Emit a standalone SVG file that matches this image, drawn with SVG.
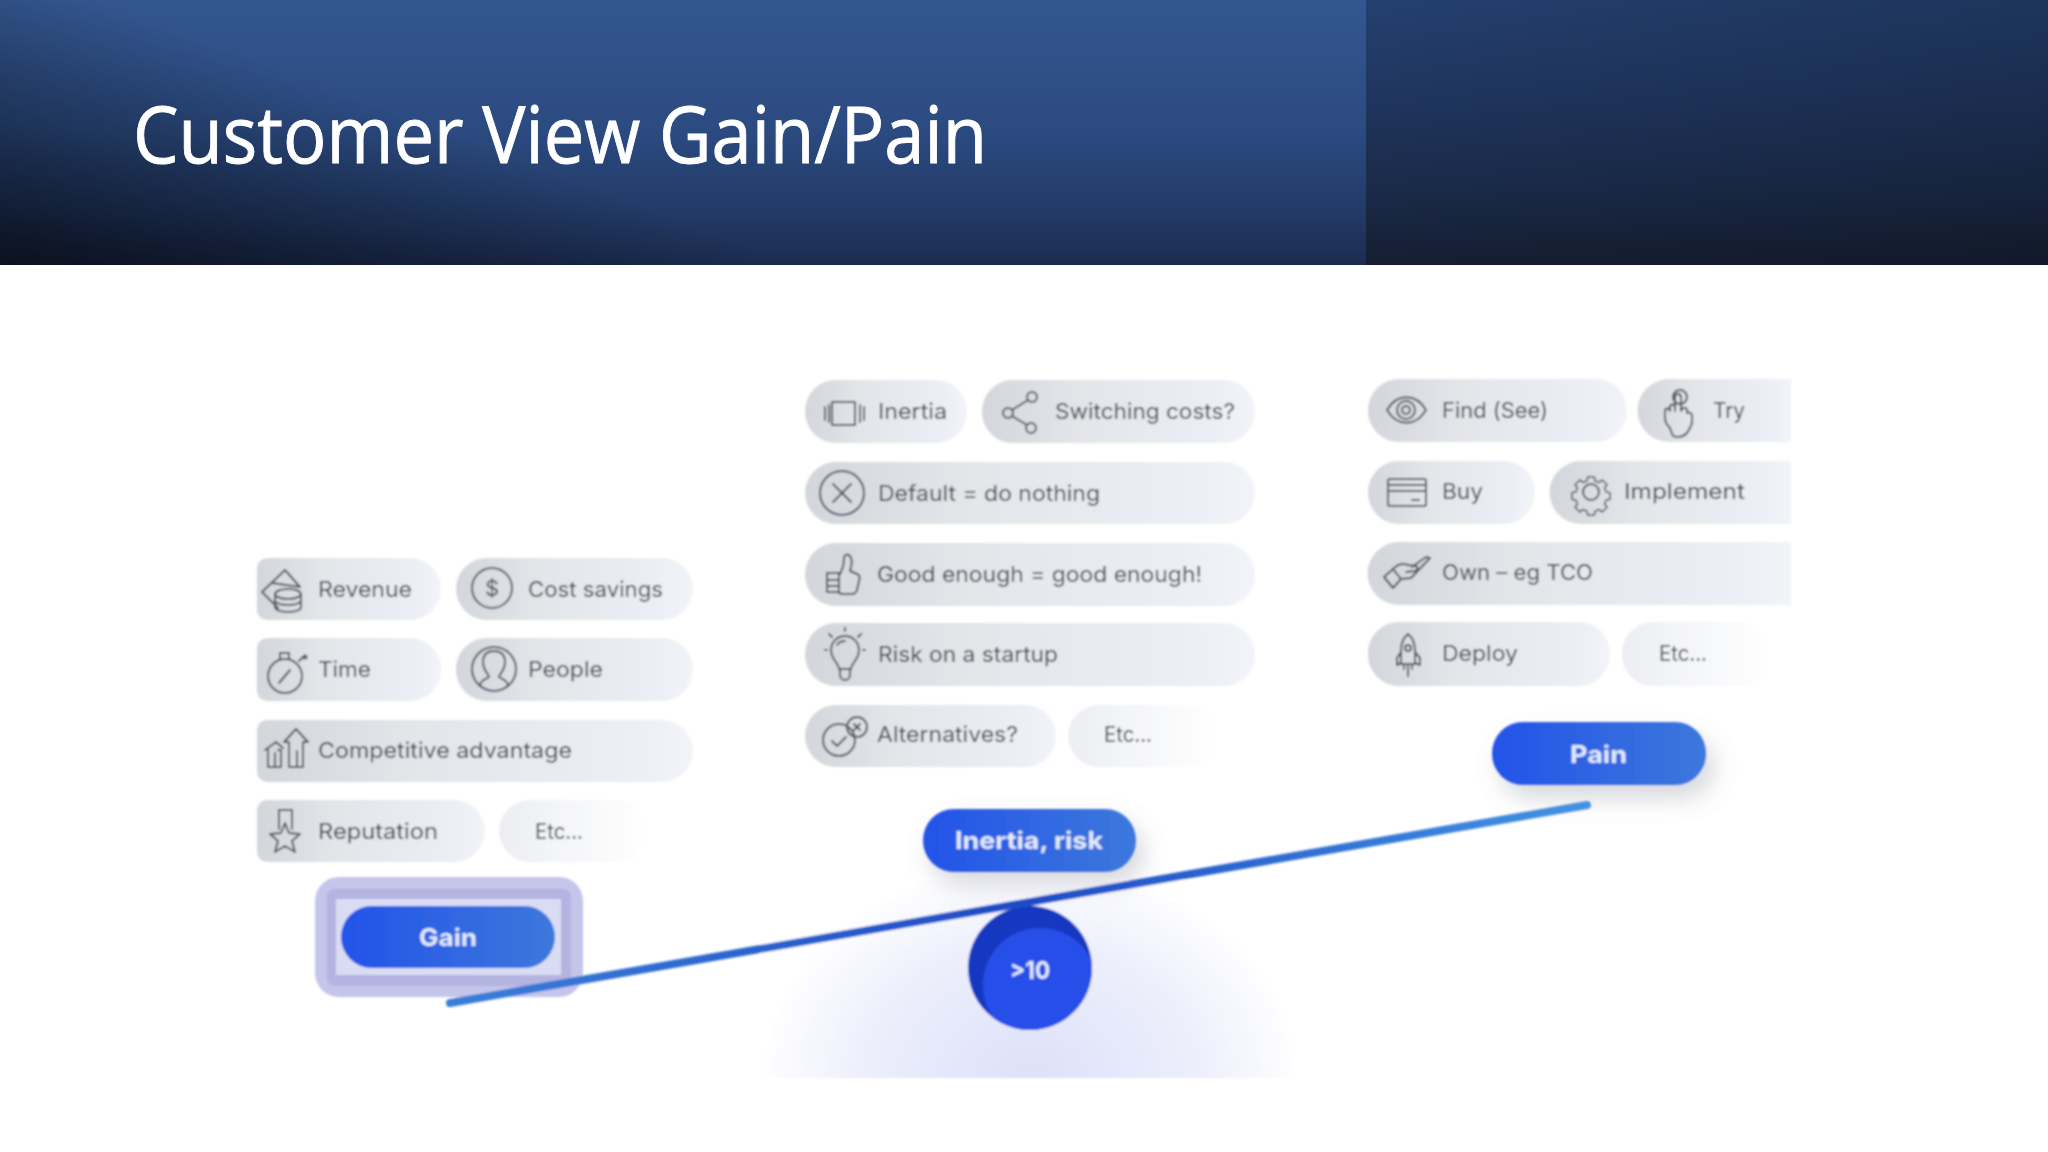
<svg xmlns="http://www.w3.org/2000/svg" width="2048" height="1152" viewBox="0 0 2048 1152">
<style>
.t{font-family:Inter,"Liberation Sans",sans-serif;font-size:22px;fill:#42464f}
.b{font-family:Inter,"Liberation Sans",sans-serif;font-weight:700;font-size:24px;fill:#e3ebfc}
.title{font-family:"Open Sans","Liberation Sans",sans-serif;font-size:79px;fill:#fff;stroke:#fff;stroke-width:.9}
.pill{fill:url(#pg)}
.etc{fill:url(#eg)}
.btn{fill:url(#bg)}
.i{fill:none;stroke:#50545d;stroke-width:2;stroke-linecap:round;stroke-linejoin:round}
</style>
<defs>
<linearGradient id="pg"><stop offset="0" stop-color="#d3d6db"/><stop offset=".35" stop-color="#e3e5e9"/><stop offset=".8" stop-color="#eaedf4"/><stop offset="1" stop-color="#f2f4f8"/></linearGradient>
<linearGradient id="eg"><stop offset="0" stop-color="#eceef2"/><stop offset=".45" stop-color="#f5f6f9"/><stop offset="1" stop-color="#fff"/></linearGradient>
<linearGradient id="bg"><stop offset="0" stop-color="#2353e8"/><stop offset="1" stop-color="#3c78dc"/></linearGradient>
<linearGradient id="hl" x1="0" y1="0" x2="0" y2="1"><stop offset="0" stop-color="#33568f"/><stop offset=".5" stop-color="#2b4a80"/><stop offset=".8" stop-color="#223a66"/><stop offset="1" stop-color="#1c2c50"/></linearGradient>
<linearGradient id="hd" gradientUnits="userSpaceOnUse" x1="0" y1="265" x2="100" y2="0"><stop offset="0" stop-color="#000" stop-opacity=".62"/><stop offset="1" stop-color="#000" stop-opacity="0"/></linearGradient>
<linearGradient id="hr" x1="0" y1="0" x2="0" y2="1"><stop offset="0" stop-color="#24406f"/><stop offset=".35" stop-color="#203660"/><stop offset=".7" stop-color="#1a2b4a"/><stop offset="1" stop-color="#151e31"/></linearGradient>
<linearGradient id="hx"><stop offset="0" stop-color="#000" stop-opacity="0"/><stop offset="1" stop-color="#000" stop-opacity=".18"/></linearGradient>
<linearGradient id="beam" gradientUnits="userSpaceOnUse" x1="448" y1="1003" x2="1588" y2="805"><stop offset="0" stop-color="#3a7fd8"/><stop offset=".5" stop-color="#1d4cc6"/><stop offset="1" stop-color="#4393e2"/></linearGradient>
<radialGradient id="glow" gradientUnits="userSpaceOnUse" cx="1030" cy="1078" r="270" gradientTransform="translate(0 215) scale(1 .8)"><stop offset="0" stop-color="#dde1f9"/><stop offset=".6" stop-color="#eceefc"/><stop offset="1" stop-color="#fff"/></radialGradient>
<filter id="soft" filterUnits="userSpaceOnUse" x="0" y="266" width="2048" height="886"><feGaussianBlur stdDeviation=".8"/></filter>
<filter id="sh" x="-30%" y="-60%" width="160%" height="240%"><feGaussianBlur stdDeviation="12"/></filter>
<clipPath id="cc"><circle cx="1030" cy="968" r="62"/></clipPath>
</defs>
<rect width="2048" height="1152" fill="#fff"/>
<g id="header">
<rect width="1366" height="265" fill="url(#hl)"/>
<rect width="1366" height="265" fill="url(#hd)"/>
<rect x="1366" width="682" height="265" fill="url(#hr)"/>
<rect x="1366" width="682" height="265" fill="url(#hx)"/>
<text class="title" x="133" y="163" textLength="854" lengthAdjust="spacingAndGlyphs">Customer View Gain/Pain</text>
</g>
<g id="infographic" filter="url(#soft)">
<g id="fulcrum-glow"><rect x="760" y="880" width="540" height="198" fill="url(#glow)"/></g>

<g id="node-revenue"><path class="pill" d="M267 558H410a31 31 0 0 1 0 62H267a10 10 0 0 1-10-10V568a10 10 0 0 1 10-10z"/>
<path class="i" d="M278 608l-16-16 23-22 15 17M272 583l28 4"/><ellipse class="i" cx="288" cy="594" rx="13" ry="5"/><path class="i" d="M275 594v13c0 3 6 5 13 5s13-2 13-5v-13M275 601c2 3 7 4 13 4s11-1 13-4"/>
<text class="t" x="318" y="597" textLength="94" lengthAdjust="spacingAndGlyphs">Revenue</text></g>
<g id="node-cost-savings"><rect class="pill" x="456" y="558" width="237" height="62" rx="31"/><circle class="i" cx="492" cy="588" r="20"/>
<text class="t" x="492" y="596" text-anchor="middle" font-size="22">$</text>
<text class="t" x="528" y="597" textLength="135" lengthAdjust="spacingAndGlyphs">Cost savings</text></g>
<g id="node-time"><path class="pill" d="M267 638H410a31 31 0 0 1 0 63H267a10 10 0 0 1-10-10V648a10 10 0 0 1 10-10z"/>
<circle class="i" cx="285" cy="676" r="17"/><path class="i" d="M280 659v-6h9v6M279 683l11-13M299 661l4-4"/><circle class="i" cx="305" cy="657" r="1.5"/>
<text class="t" x="318" y="677" textLength="53" lengthAdjust="spacingAndGlyphs">Time</text></g>
<g id="node-people"><rect class="pill" x="456" y="638" width="237" height="63" rx="31"/><circle class="i" cx="494" cy="669" r="22"/>
<path class="i" d="M480 686c0-6 6-7 9-9 0-3-6-6-6-15 0-8 5-11 11-11s11 3 11 11c0 9-6 12-6 15 3 2 9 3 9 9"/>
<text class="t" x="528" y="677" textLength="75" lengthAdjust="spacingAndGlyphs">People</text></g>
<g id="node-competitive-advantage"><path class="pill" d="M267 720H662a31 31 0 0 1 0 62H267a10 10 0 0 1-10-10V730a10 10 0 0 1 10-10z"/>
<path class="i" d="M265 750l11-8 7 6M268 750v17h13v-17h-3M275 767v-14M289 767v-25h-5l12-13 12 13h-5v25zM297 767v-16"/>
<text class="t" x="318" y="758" textLength="254" lengthAdjust="spacingAndGlyphs">Competitive advantage</text></g>
<g id="node-reputation"><path class="pill" d="M267 800H454a31 31 0 0 1 0 62H267a10 10 0 0 1-10-10V810a10 10 0 0 1 10-10z"/>
<path class="i" d="M279 829v-19h13v19"/><path class="i" d="M285 823l4 10 11 1-8 7 3 11-10-6-10 6 3-11-8-7 11-1z"/>
<text class="t" x="318" y="839" textLength="120" lengthAdjust="spacingAndGlyphs">Reputation</text></g>
<g id="node-etc-gain"><rect class="etc" x="499" y="800" width="150" height="62" rx="31"/><text class="t" x="535" y="839" textLength="48" lengthAdjust="spacingAndGlyphs">Etc...</text></g>

<g id="node-gain"><rect x="315" y="877" width="268" height="120" rx="24" fill="#c4c5ea"/><rect x="327" y="889" width="244" height="97" rx="8" fill="#b3b4e0"/><rect x="336" y="899" width="225" height="76" fill="#dadcf4"/>
<rect class="btn" x="341" y="906" width="214" height="62" rx="31"/>
<text class="b" x="419" y="946" textLength="58" lengthAdjust="spacingAndGlyphs">Gain</text></g>

<g id="node-inertia"><rect class="pill" x="805" y="380" width="162" height="63" rx="31"/>
<rect class="i" x="832" y="402" width="23" height="23"/><path class="i" d="M829 405v17M825 407v13M860 405v17M864 407v13"/>
<text class="t" x="878" y="419" textLength="69" lengthAdjust="spacingAndGlyphs">Inertia</text></g>
<g id="node-switching"><rect class="pill" x="982" y="380" width="273" height="63" rx="31"/>
<circle class="i" cx="1032" cy="397" r="5"/><circle class="i" cx="1008" cy="413" r="5"/><circle class="i" cx="1031" cy="428" r="5"/><path class="i" d="M1028 400l-16 10M1012 416l15 9"/>
<text class="t" x="1055" y="419" textLength="180" lengthAdjust="spacingAndGlyphs">Switching costs?</text></g>
<g id="node-default"><rect class="pill" x="805" y="462" width="450" height="62" rx="31"/>
<circle class="i" cx="842" cy="493" r="22"/><path class="i" d="M833 484l18 18M851 484l-18 18"/>
<text class="t" x="878" y="501" textLength="222" lengthAdjust="spacingAndGlyphs">Default = do nothing</text></g>
<g id="node-good-enough"><rect class="pill" x="805" y="543" width="450" height="63" rx="31"/>
<path class="i" d="M840 574c3-6 4-10 4-16 0-4 5-5 7 0 2 4 0 9-1 13l7 3c3 1 3 4 2 7l-2 9c-1 3-3 4-5 4h-10c-2 0-3-1-4-2M827 573h12v19h-12zM827 580h12M827 586h12"/>
<text class="t" x="877" y="582" textLength="325" lengthAdjust="spacingAndGlyphs">Good enough = good enough!</text></g>
<g id="node-risk"><rect class="pill" x="805" y="623" width="450" height="63" rx="31"/>
<path class="i" d="M839 669c0-6-8-9-8-19a14 14 0 0 1 28 0c0 10-8 13-8 19zM840 669v6a5 5 0 0 0 10 0v-6M845 628v3M829 634l3 3M861 634l-3 3M825 650h2M863 650h2M837 645c2-3 5-4 8-4"/>
<text class="t" x="878" y="662" textLength="180" lengthAdjust="spacingAndGlyphs">Risk on a startup</text></g>
<g id="node-alternatives"><rect class="pill" x="805" y="705" width="251" height="62" rx="31"/>
<circle class="i" cx="839" cy="740" r="16"/><circle class="i" cx="857" cy="727" r="10"/><path class="i" d="M832 741l5 5 9-9M854 724l6 6M860 724l-6 6"/>
<text class="t" x="877" y="742" textLength="141" lengthAdjust="spacingAndGlyphs">Alternatives?</text></g>
<g id="node-etc-inertia"><rect class="etc" x="1068" y="705" width="150" height="62" rx="31"/><text class="t" x="1104" y="742" textLength="48" lengthAdjust="spacingAndGlyphs">Etc...</text></g>

<g id="node-inertia-risk"><rect x="930" y="822" width="214" height="62" rx="31" fill="#9a9da8" opacity=".4" filter="url(#sh)"/><rect class="btn" x="923" y="809" width="213" height="63" rx="31"/>
<text class="b" x="955" y="849" textLength="148" lengthAdjust="spacingAndGlyphs">Inertia, risk</text></g>

<g id="node-find"><rect class="pill" x="1368" y="379" width="259" height="63" rx="31"/>
<path class="i" d="M1387 410c10-17 29-17 39 0-10 17-29 17-39 0z"/><circle class="i" cx="1406" cy="410" r="9"/><circle class="i" cx="1406" cy="410" r="4"/>
<text class="t" x="1442" y="418" textLength="106" lengthAdjust="spacingAndGlyphs">Find (See)</text></g>
<g id="node-try"><path class="pill" d="M1669 379H1791V442H1669a31 31 0 0 1 0-63z"/>
<circle class="i" cx="1680" cy="397" r="7"/><path class="i" d="M1670 428c-3-3-5-6-5-10v-7a2 2 0 0 1 5 0v-4a2 2 0 0 1 5 0v4-14a3 3 0 0 1 6 0v14l1-2a3 3 0 0 1 5 0v4c2-1 5 0 5 2v7c0 4-3 7-5 11-2 2-4 4-9 4s-5 0-8-9z"/>
<text class="t" x="1713" y="418" textLength="32" lengthAdjust="spacingAndGlyphs">Try</text></g>
<g id="node-buy"><rect class="pill" x="1368" y="461" width="167" height="63" rx="31"/>
<rect class="i" x="1388" y="479" width="38" height="27" rx="2"/><path class="i" d="M1388 485h38M1388 491h38M1412 500h7"/>
<text class="t" x="1442" y="499" textLength="41" lengthAdjust="spacingAndGlyphs">Buy</text></g>
<g id="node-implement"><path class="pill" d="M1581 461H1791V524H1581a31 31 0 0 1 0-63z"/>
<circle class="i" cx="1591" cy="492" r="8"/><path class="i" transform="translate(1591 492) scale(.8) translate(-1591 -491)" d="M1587 472h8l1 5 5 2 4-3 6 6-3 4 2 5 5 1v8l-5 1-2 5 3 4-6 6-4-3-5 2-1 5h-8l-1-5-5-2-4 3-6-6 3-4-2-5-5-1v-8l5-1 2-5-3-4 6-6 4 3 5-2z"/>
<text class="t" x="1624" y="499" textLength="121" lengthAdjust="spacingAndGlyphs">Implement</text></g>
<g id="node-own"><path class="pill" d="M1399 542H1791V605H1399a31 31 0 0 1 0-63z"/>
<path class="i" d="M1384 577l9-8 8 10-8 9zM1393 569c5-5 10-6 15-4l7 1c3 0 3 4 0 5l-9 1M1401 579l10-1 19-20-4-1-14 10"/>
<text class="t" x="1442" y="580" textLength="151" lengthAdjust="spacingAndGlyphs">Own – eg TCO</text></g>
<g id="node-deploy"><rect class="pill" x="1368" y="622" width="242" height="64" rx="31"/>
<path class="i" d="M1408 634c5 4 7 10 7 17v13h-14v-13c0-7 2-13 7-17zM1401 652l-4 6v7l4-2M1415 652l5 6v7l-5-2M1404 664v5M1412 664v5M1408 664v12"/><circle class="i" cx="1408" cy="648" r="3"/>
<text class="t" x="1442" y="661" textLength="76" lengthAdjust="spacingAndGlyphs">Deploy</text></g>
<g id="node-etc-pain"><rect class="etc" x="1622" y="622" width="150" height="64" rx="31"/><text class="t" x="1659" y="661" textLength="48" lengthAdjust="spacingAndGlyphs">Etc...</text></g>

<g id="node-pain"><rect x="1500" y="736" width="214" height="62" rx="31" fill="#9a9da8" opacity=".4" filter="url(#sh)"/><rect class="btn" x="1492" y="722" width="214" height="63" rx="31"/>
<text class="b" x="1570" y="763" textLength="57" lengthAdjust="spacingAndGlyphs">Pain</text></g>

<g id="node-fulcrum"><circle cx="1030" cy="968" r="62" fill="#1538c0"/><circle cx="1040" cy="985" r="57" fill="#2650ea" clip-path="url(#cc)"/>
<text class="b" x="1010" y="979" textLength="40" lengthAdjust="spacingAndGlyphs">&gt;10</text></g>

<g id="connectors"><line x1="450" y1="1003" x2="1587" y2="805" stroke="url(#beam)" stroke-width="8" stroke-linecap="round"/></g>
</g>
</svg>
